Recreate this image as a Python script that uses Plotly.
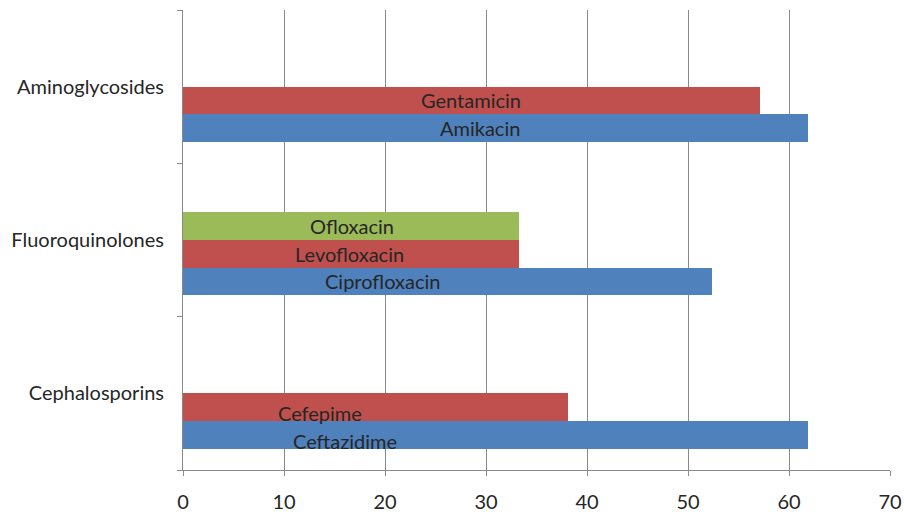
import plotly.graph_objects as go

# Antibiotic classes (bottom to top) and the drugs tested in each
classes = ["Cephalosporins", "Fluoroquinolones", "Aminoglycosides"]

drugs_a = ["Ceftazidime", "Ciprofloxacin", "Amikacin"]
values_a = [61.9, 52.4, 61.9]

drugs_b = ["Cefepime", "Levofloxacin", "Gentamicin"]
values_b = [38.1, 33.3, 57.1]

drugs_c = [None, "Ofloxacin", None]
values_c = [None, 33.3, None]

# Where each drug name sits along the value axis
label_x_a = [16.0, 19.8, 29.4]
label_x_b = [13.6, 16.5, 28.5]
label_x_c = [None, 16.7, None]

x_ticks = [0, 10, 20, 30, 40, 50, 60, 70]

BLUE = "#4F81BD"
RED = "#C0504D"
GREEN = "#9BBB59"
GRID = "#8A8A8A"
TEXT = "#262626"
FONT = "Lato"

# Four slots per class (the top one is unused), stacked upward from the bottom
SLOT_W = 0.18
SLOT_START = -0.36

series = [
    (drugs_a, values_a, label_x_a, BLUE),
    (drugs_b, values_b, label_x_b, RED),
    (drugs_c, values_c, label_x_c, GREEN),
]

fig = go.Figure()
annotations = []
for slot, (names, vals, lx, color) in enumerate(series):
    offset = SLOT_START + slot * SLOT_W
    fig.add_trace(go.Bar(
        y=classes,
        x=vals,
        orientation="h",
        marker=dict(color=color, line=dict(width=0)),
        width=SLOT_W,
        offset=offset,
        hovertext=names,
        showlegend=False,
    ))
    for ci, (name, xpos) in enumerate(zip(names, lx)):
        if name is None:
            continue
        # Cephalosporin labels sit a little low in their bars
        shift = -6 if ci == 0 else 0
        annotations.append(dict(
            x=xpos, y=ci + offset + SLOT_W / 2,
            xref="x", yref="y",
            text=name, showarrow=False,
            font=dict(family=FONT, size=20, color=TEXT),
            xanchor="center", yanchor="middle",
            yshift=shift,
        ))

fig.update_layout(
    width=904, height=512,
    margin=dict(l=183, r=14, t=10, b=42, autoexpand=False),
    paper_bgcolor="white",
    plot_bgcolor="white",
    bargap=0,
    annotations=annotations,
    font=dict(family=FONT, size=20, color=TEXT),
)

fig.update_xaxes(
    range=[0, 70],
    tickvals=x_ticks,
    automargin=False,
    showgrid=True, gridcolor=GRID, gridwidth=1,
    showline=True, linecolor=GRID, linewidth=1,
    ticks="outside", ticklen=5, tickcolor=GRID,
    ticklabelstandoff=9,
    zeroline=False,
    tickfont=dict(family=FONT, size=20, color=TEXT),
)

fig.update_yaxes(
    type="category",
    categoryorder="array", categoryarray=classes,
    range=[-0.5, 2.5],
    automargin=False,
    showgrid=False,
    showline=True, linecolor=GRID, linewidth=1,
    ticks="outside", ticklen=5, tickcolor=GRID,
    tickson="boundaries",
    ticklabelstandoff=14,
    tickfont=dict(family=FONT, size=20, color=TEXT),
)

fig.write_html("out.html")
